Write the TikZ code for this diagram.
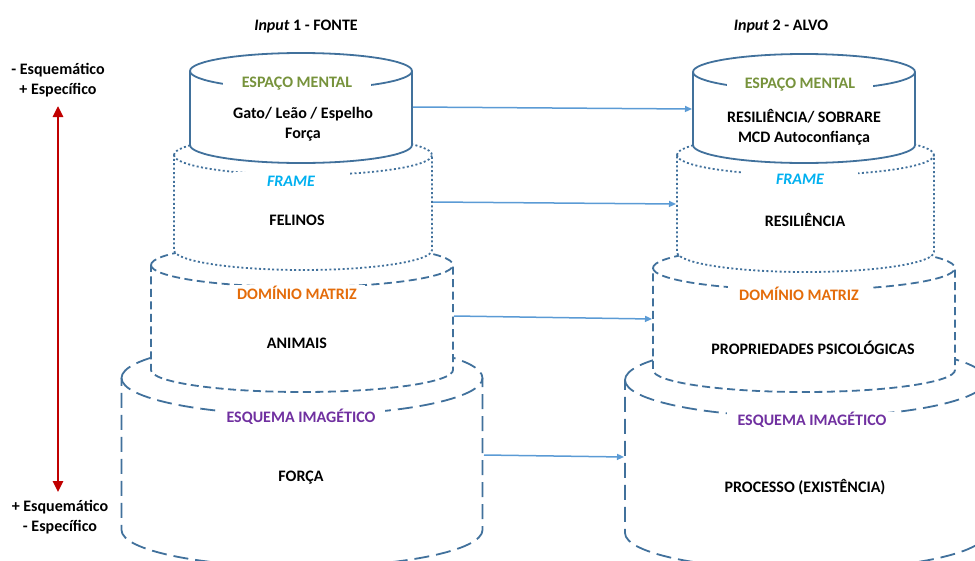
\documentclass[tikz,border=0pt]{standalone}
\usepackage{fontspec}
\setmainfont{Carlito}
\usetikzlibrary{arrows.meta}

\definecolor{contorno}{HTML}{41719C}
\definecolor{azulseta}{HTML}{5B9BD5}
\definecolor{vermelho}{HTML}{C00000}
\definecolor{verdeem}{HTML}{77933C}
\definecolor{azulframe}{HTML}{00B0F0}
\definecolor{laranja}{HTML}{E46C0A}
\definecolor{roxo}{HTML}{7030A0}

% cilindro: centro x, raio x, topo, base, raio y, estilo
\newcommand{\cilindro}[6]{%
  \filldraw[#6,fill=white] ({#1-#2},-#3) arc[start angle=180,end angle=0,x radius=#2pt,y radius=#5pt]
    -- ({#1+#2},-#4) arc[start angle=0,end angle=-180,x radius=#2pt,y radius=#5pt] -- cycle;
  \draw[#6] ({#1-#2},-#3) arc[start angle=180,end angle=360,x radius=#2pt,y radius=#5pt];
}

\tikzset{
  espaco/.style={draw=contorno,line width=1.8pt},
  quadro/.style={draw=contorno,line width=1.8pt,dash pattern=on 2pt off 2.4pt},
  dominio/.style={draw=contorno,line width=1.8pt,dash pattern=on 8pt off 4.5pt},
  esquema/.style={draw=contorno,line width=1.8pt,dash pattern=on 15pt off 7pt},
  rotulo/.style={fill=white,inner sep=0pt,minimum height=16pt,font=\fontsize{16}{20}\selectfont\bfseries},
  texto/.style={align=center,inner sep=0pt,font=\fontsize{16}{20}\selectfont\bfseries},
  ligacao/.style={draw=azulseta,line width=1.5pt,-{Triangle[length=7pt,width=6pt]}},
  eixo/.style={draw=vermelho,line width=2.6pt,{Triangle[length=11pt,width=10pt]}-{Triangle[length=11pt,width=10pt]}},
}

\begin{document}
\begin{tikzpicture}[x=1pt,y=1pt]
 \useasboundingbox (0,0) rectangle (975,-560);
 \clip (0,0) rectangle (975,-560);

 % camadas, de baixo para cima
 \cilindro{302}{180.5}{378}{530}{37}{esquema}
 \cilindro{805.5}{180.5}{380}{533}{37}{esquema}
 \cilindro{302}{151}{265}{370}{22}{dominio}
 \cilindro{804}{151}{268}{370}{22}{dominio}
 \cilindro{303}{129}{155}{250}{20}{quadro}
 \cilindro{805.5}{128.5}{155}{252}{20}{quadro}
 \cilindro{301}{111}{71}{145}{18}{espaco}
 \cilindro{804}{111}{72}{145}{18}{espaco}

 % titulos
 \node[texto] (input1) at (306,-27) {\textit{Input} 1 - FONTE};
 \node[texto] (input2) at (781,-27) {\textit{Input} 2 - ALVO};

 % rotulos das camadas
 \node[rotulo,text=verdeem,minimum width=148pt] (em-fonte) at (297,-84) {ESPAÇO MENTAL};
 \node[rotulo,text=verdeem,minimum width=146pt] (em-alvo) at (800,-85) {ESPAÇO MENTAL};
 \node[rotulo,text=azulframe,minimum width=117pt,minimum height=18pt] (frame-fonte) at (291,-181) {\itshape FRAME};
 \node[rotulo,text=azulframe,minimum width=116pt,minimum height=18pt] (frame-alvo) at (800,-179) {\itshape FRAME};
 \node[rotulo,text=laranja,minimum width=135pt] (dom-fonte) at (297,-293) {DOMÍNIO MATRIZ};
 \node[rotulo,text=laranja,minimum width=142pt] (dom-alvo) at (799,-294) {DOMÍNIO MATRIZ};
 \node[rotulo,text=roxo,minimum width=167pt] (esq-fonte) at (301,-417) {ESQUEMA IMAGÉTICO};
 \node[rotulo,text=roxo,minimum width=171pt] (esq-alvo) at (812,-420) {ESQUEMA IMAGÉTICO};

 % conteudos
 \node[texto] (gato) at (303,-124) {Gato/ Leão / Espelho\\Força};
 \node[texto] (resil1) at (804,-127) {RESILIÊNCIA/ SOBRARE\\MCD Autoconfiança};
 \node[texto] (felinos) at (297,-220) {FELINOS};
 \node[texto] (resil2) at (805,-220) {RESILIÊNCIA};
 \node[texto] (animais) at (297,-343) {ANIMAIS};
 \node[texto] (propr) at (813,-348) {PROPRIEDADES PSICOLÓGICAS};
 \node[texto] (forca) at (301,-478) {FORÇA};
 \node[texto] (processo) at (805,-487) {PROCESSO (EXISTÊNCIA)};

 % escala lateral
 \node[texto] (mais) at (58,-80) {- Esquemático\\+ Específico};
 \node[texto] (menos) at (60,-517) {+ Esquemático\\- Específico};
 \coordinate (topo) at (58,-106);
 \coordinate (base) at (58,-492);
 \draw[eixo] (topo) -- (base);

 % ligacoes fonte -> alvo
 \coordinate (f1) at (413,-107);
 \coordinate (a1) at (692,-109);
 \coordinate (f2) at (433,-202);
 \coordinate (a2) at (676,-204);
 \coordinate (f3) at (454,-316);
 \coordinate (a3) at (652,-319);
 \coordinate (f4) at (484,-455);
 \coordinate (a4) at (624,-457);
 \draw[ligacao] (f1) -- (a1);
 \draw[ligacao] (f2) -- (a2);
 \draw[ligacao] (f3) -- (a3);
 \draw[ligacao] (f4) -- (a4);
\end{tikzpicture}
\end{document}
